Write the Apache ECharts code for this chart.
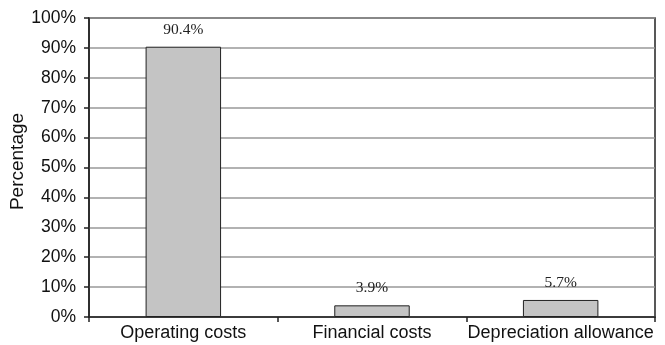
<!DOCTYPE html>
<html>
<head>
<meta charset="utf-8">
<script src="https://cdn.jsdelivr.net/npm/echarts@6/dist/echarts.min.js"></script>
<style>
  html, body { margin: 0; padding: 0; background: #fff; }
  #main { width: 665px; height: 345px; }
</style>
</head>
<body>
<div id="main"></div>
<script>
  var categories = ['Operating costs', 'Financial costs', 'Depreciation allowance'];
  var shares = [90.4, 3.9, 5.7];
  var yTicks = [0, 10, 20, 30, 40, 50, 60, 70, 80, 90, 100];

  var chart = echarts.init(document.getElementById('main'));
  chart.setOption({
    animation: false,
    grid: {
      left: 89, right: 10, top: 18, bottom: 28,
      outerBoundsMode: 'none', containLabel: false,
      show: true, borderColor: '#222', borderWidth: 1.5
    },
    xAxis: {
      type: 'category',
      data: categories,
      axisLine: { lineStyle: { color: '#222', width: 1.5 } },
      axisTick: { show: true, length: 5, lineStyle: { color: '#222', width: 1.5 } },
      axisLabel: { interval: 0, color: '#111', fontFamily: 'Liberation Sans', fontSize: 18, margin: 7 }
    },
    yAxis: {
      type: 'value',
      min: yTicks[0],
      max: yTicks[yTicks.length - 1],
      interval: 10,
      name: 'Percentage',
      nameLocation: 'middle',
      nameGap: 62,
      nameMoveOverlap: false,
      nameTextStyle: { color: '#111', fontFamily: 'Liberation Sans', fontSize: 19, padding: [0, 0, 0, 12] },
      axisLine: { show: true, lineStyle: { color: '#222', width: 1.5 } },
      axisTick: { show: true, length: 5, lineStyle: { color: '#222', width: 1.5 } },
      axisLabel: { color: '#111', fontFamily: 'Liberation Sans', fontSize: 17.5, margin: 13, formatter: '{value}%' },
      splitLine: { lineStyle: { color: '#999', width: 1.5 } }
    },
    series: [{
      type: 'bar',
      data: shares,
      barWidth: '40%',
      itemStyle: { color: '#c4c4c4', borderColor: '#222', borderWidth: 1 },
      label: {
        show: true,
        position: 'top',
        distance: 9,
        color: '#222',
        fontFamily: 'Liberation Serif',
        fontSize: 15.5,
        formatter: function (p) { return p.value.toFixed(1) + '%'; }
      }
    }]
  });
</script>
</body>
</html>
